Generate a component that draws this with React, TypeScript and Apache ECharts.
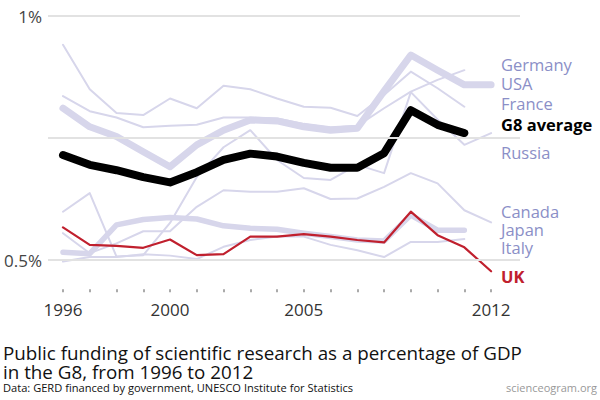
import React, { useEffect, useRef } from "react";
import * as echarts from "echarts";

const years = [1996, 1997, 1998, 1999, 2000, 2001, 2002, 2003, 2004, 2005, 2006, 2007, 2008, 2009, 2010, 2011, 2012];
const xLabelYears = [1996, 2000, 2005, 2012];
const yLabelValues = [0.5, 1];
const gridValues = [0.5, 0.75, 1];

const france = [0.941, 0.85, 0.801, 0.797, 0.831, 0.811, 0.857, 0.85, 0.831, 0.814, 0.812, 0.795, 0.838, 0.886, 0.852, 0.814];
const germany = [0.836, 0.805, 0.792, 0.772, 0.775, 0.777, 0.792, 0.792, 0.79, 0.779, 0.772, 0.775, 0.811, 0.845, 0.869, 0.889];
const usa = [0.811, 0.773, 0.753, 0.722, 0.691, 0.736, 0.766, 0.787, 0.785, 0.773, 0.766, 0.77, 0.846, 0.92, 0.889, 0.859, 0.859];
const russia = [0.599, 0.637, 0.507, 0.51, 0.576, 0.67, 0.731, 0.766, 0.705, 0.668, 0.664, 0.695, 0.678, 0.844, 0.788, 0.736, 0.76];
const canada = [0.555, 0.514, 0.534, 0.559, 0.559, 0.609, 0.643, 0.64, 0.64, 0.647, 0.625, 0.626, 0.65, 0.678, 0.657, 0.602, 0.577];
const japan = [0.516, 0.513, 0.572, 0.583, 0.587, 0.584, 0.57, 0.565, 0.563, 0.555, 0.548, 0.541, 0.539, 0.592, 0.561, 0.561];
const italy = [0.497, 0.506, 0.506, 0.512, 0.509, 0.502, 0.527, 0.541, 0.548, 0.548, 0.531, 0.52, 0.506, 0.537, 0.537, 0.543];
const uk = [0.567, 0.531, 0.529, 0.525, 0.542, 0.51, 0.512, 0.548, 0.548, 0.553, 0.548, 0.541, 0.536, 0.599, 0.551, 0.526, 0.477];
const g8 = [0.715, 0.695, 0.684, 0.67, 0.659, 0.68, 0.705, 0.718, 0.712, 0.699, 0.689, 0.689, 0.719, 0.807, 0.777, 0.76];

const FONT = "Open Sans";
const LAV = "#d7d6eb";
const LAV_TEXT = "#8b8fc7";

const pairs = (vals: number[]) => vals.map((v, i) => [years[i], v]);

export default function App() {
  const ref = useRef<HTMLDivElement>(null);
  useEffect(() => {
    if (!ref.current) return;
    const chart = echarts.init(ref.current, null, { renderer: "svg" });
    const line = (name: string, vals: number[], color: string, width: number, z: number) => ({
      name,
      type: "line",
      data: pairs(vals),
      symbol: "none",
      z,
      lineStyle: { color, width, cap: "round", join: "round" },
      silent: true,
    });
    const labels = [
      { t: "Germany", y: 64, c: LAV_TEXT, w: "normal" },
      { t: "USA", y: 83, c: LAV_TEXT, w: "normal" },
      { t: "France", y: 103, c: LAV_TEXT, w: "normal" },
      { t: "G8 average", y: 124, c: "#000", w: "bold" },
      { t: "Russia", y: 152, c: LAV_TEXT, w: "normal" },
      { t: "Canada", y: 211, c: LAV_TEXT, w: "normal" },
      { t: "Japan", y: 229, c: LAV_TEXT, w: "normal" },
      { t: "Italy", y: 247, c: LAV_TEXT, w: "normal" },
      { t: "UK", y: 276, c: "#c0202e", w: "bold" },
    ];
    chart.setOption({
      animation: false,
      grid: { left: 48, right: 80, top: 16, bottom: 110.7, containLabel: false },
      xAxis: {
        type: "value",
        min: 1995.44,
        max: 2013.08,
        axisLine: { show: false },
        splitLine: { show: false },
        axisTick: { show: true, customValues: years, length: 3, lineStyle: { color: "#aaa", width: 2 } },
        axisLabel: {
          customValues: xLabelYears,
          formatter: (v: number) => String(v),
          fontFamily: FONT,
          fontSize: 17,
          color: "#333",
          margin: 12,
        },
      },
      yAxis: {
        type: "value",
        min: 0.44,
        max: 1,
        axisLine: { show: false },
        axisTick: { show: false },
        splitLine: { show: false },
        axisLabel: {
          customValues: yLabelValues,
          formatter: (v: number) => (v === 1 ? "1%" : "0.5%"),
          fontFamily: FONT,
          fontSize: 17,
          color: "#444",
          margin: 6,
        },
      },
      series: [
        {
          type: "line",
          data: [],
          silent: true,
          z: 0,
          markLine: {
            silent: true,
            symbol: "none",
            label: { show: false },
            lineStyle: { color: "#e2e2e2", width: 2, type: "solid" },
            data: gridValues.map((v) => ({ yAxis: v })),
          },
        },
        line("France", france, LAV, 2, 1),
        line("Germany", germany, LAV, 2, 1),
        line("Russia", russia, LAV, 2, 1),
        line("Canada", canada, LAV, 2, 1),
        line("Italy", italy, LAV, 2, 1),
        line("Japan", japan, LAV, 5.5, 1),
        line("USA", usa, LAV, 7, 2),
        line("UK", uk, "#c0202e", 2.2, 3),
        line("G8 average", g8, "#000", 8, 4),
      ],
      graphic: [
        ...labels.map((l) => ({
          type: "text",
          left: 501,
          top: l.y - 8,
          style: { text: l.t, fill: l.c, fontFamily: FONT, fontSize: 16.5, lineHeight: 16, fontWeight: l.w },
        })),
        {
          type: "text",
          left: 3,
          top: 343,
          style: {
            text: "Public funding of scientific research as a percentage of GDP",
            fill: "#111",
            fontFamily: FONT,
            fontSize: 18.8,
            lineHeight: 18,
          },
        },
        {
          type: "text",
          left: 3,
          top: 362,
          style: {
            text: "in the G8, from 1996 to 2012",
            fill: "#111",
            fontFamily: FONT,
            fontSize: 18.8,
            lineHeight: 18,
          },
        },
        {
          type: "text",
          left: 3,
          top: 381.5,
          style: {
            text: "Data: GERD financed by government, UNESCO Institute for Statistics",
            fill: "#111",
            fontFamily: FONT,
            fontSize: 11.1,
            lineHeight: 11,
          },
        },
        {
          type: "text",
          right: 3,
          top: 381.5,
          style: { text: "scienceogram.org", fill: "#999", fontFamily: FONT, fontSize: 11, lineHeight: 11 },
        },
      ],
    });
    return () => chart.dispose();
  }, []);
  return <div ref={ref} style={{ width: 600, height: 400, position: "absolute", left: 0, top: 0 }} />;
}
